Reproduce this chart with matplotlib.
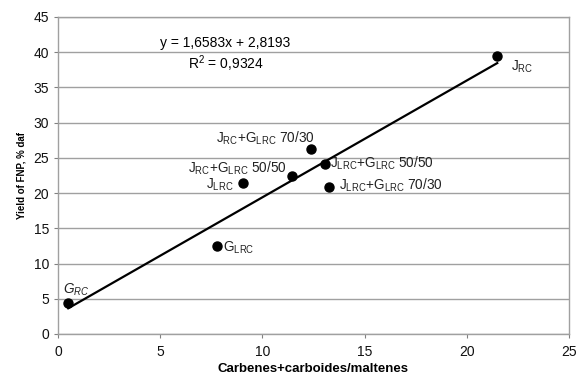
import matplotlib
matplotlib.use('Agg')
from matplotlib import pyplot as plt

plt.rcParams['font.family'] = ['Liberation Sans', 'DejaVu Sans']
plt.rcParams['mathtext.fontset'] = 'custom'
plt.rcParams['mathtext.rm'] = 'Liberation Sans'
plt.rcParams['mathtext.it'] = 'Liberation Sans:italic'

# данные с графика
x_vals = [0.5, 7.76, 9.07, 11.45, 12.38, 13.06, 13.26, 21.49]
y_vals = [4.36, 12.5, 21.4, 22.4, 26.2, 24.2, 20.9, 39.4]
labels = [r'$\mathit{G_{RC}}$', r'$\mathrm{G_{LRC}}$', r'$\mathrm{J_{LRC}}$',
          r'$\mathrm{J_{RC}}$+$\mathrm{G_{LRC}}$ 50/50',
          r'$\mathrm{J_{RC}}$+$\mathrm{G_{LRC}}$ 70/30',
          r'$\mathrm{J_{LRC}}$+$\mathrm{G_{LRC}}$ 50/50',
          r'$\mathrm{J_{LRC}}$+$\mathrm{G_{LRC}}$ 70/30',
          r'$\mathrm{J_{RC}}$']
slope = 1.6583
intercept = 2.8193
r2 = 0.9324

# смещения подписей (px), выравнивание
offsets = [(-5, 13, 'left'), (6, -2, 'left'), (-10, -2, 'right'),
           (-5, 8, 'right'), (4, 11, 'right'), (5, 0, 'left'),
           (10, 1, 'left'), (14, -10, 'left')]

fig = plt.figure(figsize=(5.79, 3.81), dpi=100)
ax = fig.add_axes([0.1002, 0.1234, 0.8825, 0.832])

ax.set_xlim(0, 25)
ax.set_ylim(0, 45)
ax.set_xticks(range(0, 26, 5))
ax.set_yticks(range(0, 46, 5))
ax.yaxis.grid(True, color='#a0a0a0', linewidth=1)
ax.set_axisbelow(True)
for s in ax.spines.values():
    s.set_color('#a0a0a0')
    s.set_linewidth(1)
ax.tick_params(colors='#808080', labelcolor='#111111', labelsize=10, length=3, direction='out')
ax.tick_params(axis='x', pad=5)

x_line = [min(x_vals), max(x_vals)]
y_line = [slope * x + intercept for x in x_line]
ax.plot(x_line, y_line, color='black', linewidth=1.6)
ax.plot(x_vals, y_vals, 'o', color='black', markersize=6.5)

for x, y, lab, (dx, dy, ha) in zip(x_vals, y_vals, labels, offsets):
    ax.annotate(lab, (x, y), xytext=(dx * 0.72, dy * 0.72), textcoords='offset points',
                ha=ha, va='center', fontsize=9.8, color='#222222')

ax.text(8.2, 41.3, f'y = {slope:.4f}x + {intercept:.4f}'.replace('.', ','),
        ha='center', va='center', fontsize=10)
ax.text(8.2, 38.4, r'R$^2$ = ' + f'{r2:.4f}'.replace('.', ','),
        ha='center', va='center', fontsize=10)

ax.set_xlabel('Carbenes+carboides/maltenes', fontsize=9.5, fontweight='bold', labelpad=3)
ax.set_ylabel('Yield of FNP, % daf', fontsize=7, fontweight='bold', labelpad=5)

plt.savefig('out.png', dpi=100)
